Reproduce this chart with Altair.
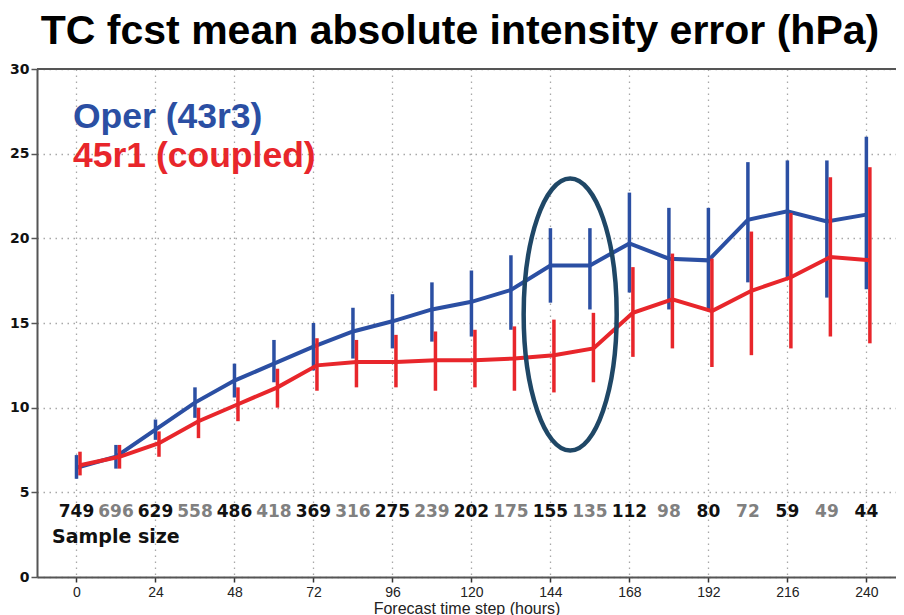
import altair as alt
import pandas as pd

# ---------------- data ----------------
steps = [0, 12, 24, 36, 48, 60, 72, 84, 96, 108, 120, 132, 144, 156, 168, 180, 192, 204, 216, 228, 240]

oper_mean = [6.45, 7.1, 8.7, 10.3, 11.6, 12.6, 13.6, 14.5, 15.1, 15.8, 16.25, 16.95, 18.4, 18.4, 19.7, 18.8, 18.7, 21.1, 21.6, 21.0, 21.4]
oper_lo = [5.8, 6.4, 8.1, 9.4, 10.6, 11.5, 12.2, 12.9, 13.5, 13.9, 14.2, 14.6, 16.2, 15.8, 16.8, 15.8, 15.8, 17.4, 17.7, 16.5, 17.0]
oper_hi = [7.2, 7.8, 9.3, 11.2, 12.6, 14.0, 15.0, 15.9, 16.7, 17.4, 18.1, 19.0, 20.6, 20.6, 22.7, 21.8, 21.8, 24.5, 24.6, 24.6, 26.0]

coupled_mean = [6.6, 7.1, 7.9, 9.2, 10.2, 11.2, 12.5, 12.7, 12.7, 12.8, 12.8, 12.9, 13.1, 13.5, 15.6, 16.4, 15.7, 16.9, 17.7, 18.9, 18.7]
coupled_lo = [6.0, 6.4, 7.1, 8.2, 9.2, 10.0, 11.0, 11.2, 11.2, 11.0, 11.2, 11.0, 10.9, 11.5, 13.0, 13.5, 12.4, 13.1, 13.5, 14.2, 13.8]
coupled_hi = [7.4, 7.8, 8.6, 10.0, 11.2, 12.3, 14.1, 14.0, 14.3, 14.5, 14.6, 14.8, 15.2, 15.6, 18.3, 19.1, 18.8, 20.4, 21.5, 23.6, 24.2]

sample_size = [749, 696, 629, 558, 486, 418, 369, 316, 275, 239, 202, 175, 155, 135, 112, 98, 80, 72, 59, 49, 44]

x_ticks = [0, 24, 48, 72, 96, 120, 144, 168, 192, 216, 240]
y_ticks = [0, 5, 10, 15, 20, 25, 30]

series_names = ["Oper (43r3)", "45r1 (coupled)"]
series_colors = ["#2b4fa3", "#e8262b"]

title_text = "TC fcst mean absolute intensity error (hPa)"
x_title = "Forecast time step (hours)"
sample_label = "Sample size"

# highlighted region (ellipse annotation), in data units
highlight_step = 150
highlight_value = 15.5

# ---------------- tables ----------------
def series_table(mean, lo, hi):
    return pd.DataFrame({"step": steps, "mean": mean, "lo": lo, "hi": hi})

oper_df = series_table(oper_mean, oper_lo, oper_hi)
coupled_df = series_table(coupled_mean, coupled_lo, coupled_hi)
ss_df = pd.DataFrame({
    "step": steps,
    "n": sample_size,
    "parity": [i % 2 for i in range(len(steps))],
})
legend_df = pd.DataFrame({"name": series_names})
title_df = pd.DataFrame({"t": [title_text]})
label_df = pd.DataFrame({"t": [sample_label]})
frame_df = pd.DataFrame({"v": [30]})
ell_df = pd.DataFrame({"step": [highlight_step], "mean": [highlight_value]})

# ---------------- scales / axes ----------------
x_scale = alt.Scale(domain=[-12, 249], nice=False, zero=False)
y_scale = alt.Scale(domain=[0, 30], nice=False, zero=False)

x_axis = alt.Axis(
    values=x_ticks, title=x_title, grid=True, gridDash=[1.5, 4.5], gridColor="#a8a8a8",
    gridWidth=1.3, domainColor="#555555", domainWidth=2, tickColor="#333333",
    tickSize=5, tickWidth=1.5, labelFont="Liberation Sans", labelFontSize=14,
    labelColor="#222222", labelPadding=3, labelFlush=False,
    titleFont="Liberation Sans", titleFontSize=16, titleFontWeight="normal",
    titleColor="#222222", titlePadding=1,
)
y_axis = alt.Axis(
    values=y_ticks, title=None, grid=True, gridDash=[1.5, 4.5], gridColor="#a8a8a8",
    gridWidth=1.3, domainColor="#555555", domainWidth=2, tickColor="#555555",
    tickSize=6, tickWidth=1.5, labelFont="DejaVu Sans", labelFontWeight="bold",
    labelFontSize=14, labelColor="#111111", labelPadding=2,
)

def X(field="step:Q"):
    return alt.X(field, scale=x_scale, axis=x_axis)

def Y(field):
    return alt.Y(field, scale=y_scale, axis=y_axis)


def series_layers(df, color, offset):
    line = alt.Chart(df).mark_line(color=color, strokeWidth=4, xOffset=offset).encode(
        x=X(), y=Y("mean:Q")
    )
    bars = alt.Chart(df).mark_rule(color=color, strokeWidth=3.5, xOffset=offset).encode(
        x=X(), y=Y("lo:Q"), y2="hi:Q"
    )
    return [bars, line]


frame = alt.Chart(frame_df).mark_rule(color="#555555", strokeWidth=2).encode(y=Y("v:Q"))

ellipse_path = "M0,-1A0.342,1 0 1,1 0,1A0.342,1 0 1,1 0,-1Z"
ellipse = alt.Chart(ell_df).mark_point(
    shape=ellipse_path, size=73984, filled=False, strokeWidth=4.5,
    color="#1f4766", opacity=1,
).encode(x=X(), y=Y("mean:Q"))

samples = alt.Chart(ss_df).mark_text(
    font="DejaVu Sans", fontWeight="bold", fontSize=17, baseline="alphabetic", align="center"
).encode(
    x=X(),
    y=alt.value(448),
    text="n:Q",
    color=alt.Color("parity:N", scale=alt.Scale(domain=[0, 1], range=["#111111", "#808080"]), legend=None),
)

sample_lbl = alt.Chart(label_df).mark_text(
    font="DejaVu Sans", fontWeight="bold", fontSize=19, baseline="alphabetic", align="left",
    color="#111111",
).encode(x=alt.value(15), y=alt.value(474), text="t:N")

legend_oper = alt.Chart(legend_df).transform_filter(
    alt.datum.name == series_names[0]
).mark_text(
    font="Liberation Sans", fontWeight="bold", fontSize=35.5, baseline="alphabetic",
    align="left", color=series_colors[0],
).encode(x=alt.value(36), y=alt.value(59), text="name:N")

legend_coupled = alt.Chart(legend_df).transform_filter(
    alt.datum.name == series_names[1]
).mark_text(
    font="Liberation Sans", fontWeight="bold", fontSize=35.5, baseline="alphabetic",
    align="left", color=series_colors[1],
).encode(x=alt.value(36), y=alt.value(98), text="name:N")

title = alt.Chart(title_df).mark_text(
    font="Liberation Sans", fontWeight="bold", fontSize=41, baseline="alphabetic",
    align="center", color="#000000",
).encode(x=alt.value(423), y=alt.value(-25), text="t:N")

layers = [frame]
layers += series_layers(oper_df, series_colors[0], 0)
layers += series_layers(coupled_df, series_colors[1], 3.5)
layers += [ellipse, samples, sample_lbl, legend_oper, legend_coupled, title]

chart = alt.layer(*layers).properties(
    width=859,
    height=508,
    autosize=alt.AutoSizeParams(type="none"),
    padding={"left": 29, "top": 61, "right": 0, "bottom": 38},
    background="white",
).configure_view(stroke=None)

chart.save("out.html", embed_options={"renderer": "svg", "actions": False})
